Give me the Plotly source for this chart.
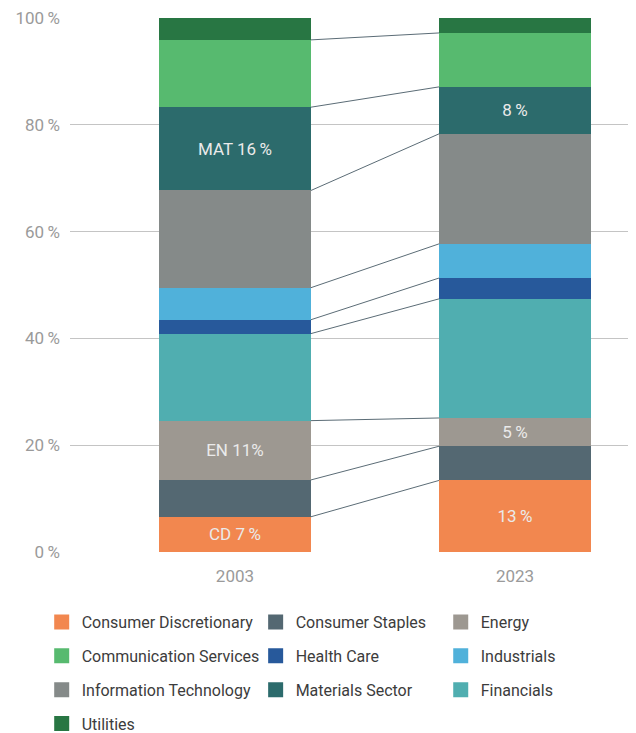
import plotly.graph_objects as go

years = ["2003", "2023"]
sectors = ["Consumer Discretionary", "Consumer Staples", "Energy", "Financials",
           "Health Care", "Industrials", "Information Technology", "Materials Sector",
           "Communication Services", "Utilities"]
share_2003 = [6.6, 6.9, 11.1, 16.3, 2.6, 6.0, 18.2, 15.6, 12.6, 4.1]
share_2023 = [13.4, 6.4, 5.3, 22.3, 3.9, 6.4, 20.6, 8.8, 10.1, 2.8]
colors = ["#F2874F", "#546872", "#9D9891", "#50AEB0", "#27599B",
          "#50B1DA", "#858A89", "#2C6B6C", "#57BA6F", "#287643"]
labels_2003 = ["CD 7\u2009%", "", "EN 11%", "", "", "", "", "MAT 16\u2009%", "", ""]
labels_2023 = ["13\u2009%", "", "5\u2009%", "", "", "", "", "8\u2009%", "", ""]
y_ticks = [0, 20, 40, 60, 80, 100]
y_ticklabels = ["0\u2009%", "20\u2009%", "40\u2009%", "60\u2009%", "80\u2009%", "100\u2009%"]

legend_columns = [
    ["Consumer Discretionary", "Communication Services", "Information Technology", "Utilities"],
    ["Consumer Staples", "Health Care", "Materials Sector"],
    ["Energy", "Industrials", "Financials"],
]

FONT = "Roboto"
xpos = [0, 1]
bar_w = 0.543

fig = go.Figure()

for i, s in enumerate(sectors):
    fig.add_trace(go.Bar(
        x=xpos, y=[share_2003[i], share_2023[i]], width=bar_w,
        marker=dict(color=colors[i], line=dict(width=0)),
        text=[labels_2003[i], labels_2023[i]],
        textposition="inside", insidetextanchor="middle", constraintext="none",
        textfont=dict(family=FONT, size=17, color="#EAEAEA"),
        showlegend=False, hoverinfo="skip", name=s,
    ))

# connector lines between cumulative boundaries
cx, cy = [], []
c03, c23 = 0.0, 0.0
for i in range(len(sectors) - 1):
    c03 += share_2003[i]
    c23 += share_2023[i]
    cx += [xpos[0] + bar_w / 2, xpos[1] - bar_w / 2, None]
    cy += [c03, c23, None]
fig.add_trace(go.Scatter(x=cx, y=cy, mode="lines",
                         line=dict(color="#5B6C76", width=1),
                         showlegend=False, hoverinfo="skip"))

legend_names = ["legend", "legend2", "legend3"]
for li, col in enumerate(legend_columns):
    for s in col:
        idx = sectors.index(s)
        fig.add_trace(go.Scatter(
            x=[None], y=[None], mode="markers", name=s,
            marker=dict(symbol="square", size=15, color=colors[idx]),
            legend=legend_names[li], legendgroup=s,
        ))

legend_common = dict(
    orientation="v", yanchor="top", y=-0.0995, xanchor="left",
    font=dict(family=FONT, size=16, color="#3C3C3C"),
    tracegroupgap=10, bgcolor="rgba(0,0,0,0)", itemclick=False, itemdoubleclick=False,
)

# the page body adds an 8 px offset, so the figure is sized 8 px smaller
fig.update_layout(
    width=628, height=725,
    margin=dict(l=62, r=0, t=10, b=181.3, autoexpand=False),
    plot_bgcolor="white", paper_bgcolor="white",
    barmode="stack",
    font=dict(family=FONT),
    xaxis=dict(range=[-0.589, 1.432], tickvals=xpos, ticktext=years,
               showgrid=False, zeroline=False, showline=False, ticks="",
               ticklabelstandoff=12,
               tickfont=dict(family=FONT, size=17, color="#9A9A9A")),
    yaxis=dict(range=[0, 100], tickvals=y_ticks, ticktext=y_ticklabels,
               showgrid=True, gridcolor="#C4C4C4", gridwidth=1,
               zeroline=False, showline=False, ticks="", ticklabelstandoff=9,
               ticklabeloverflow="allow",
               tickfont=dict(family=FONT, size=17, color="#9A9A9A")),
    legend=dict(x=-0.05, **legend_common),
    legend2=dict(x=0.328, **legend_common),
    legend3=dict(x=0.655, **legend_common),
)

fig.write_html("out.html")
